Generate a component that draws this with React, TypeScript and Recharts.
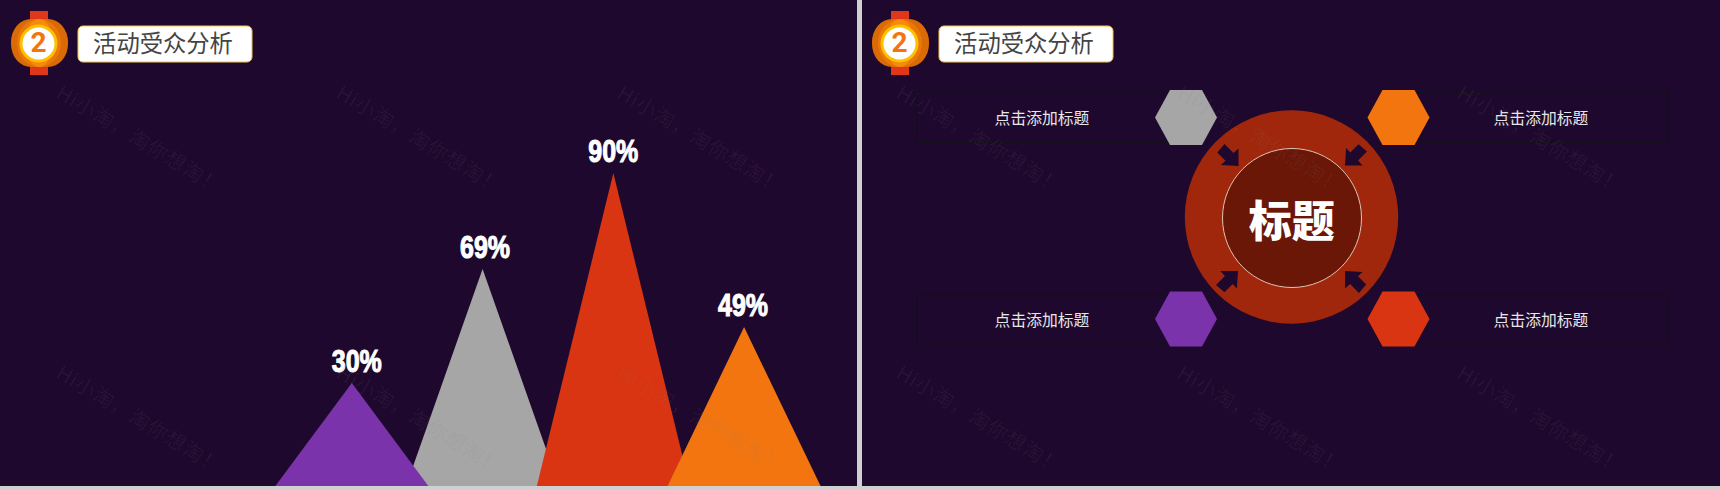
import { BarChart, Bar, XAxis, YAxis, LabelList } from 'recharts'

// peak heights are read off the picture, the printed labels do not follow them exactly
const categories = ['a', 'b', 'c', 'd']
const peakLabels = ['30%', '69%', '90%', '49%']
const peakHeights = [29.6, 62.4, 90, 45.7]
const peakColors = ['#7a33ab', '#a6a6a6', '#d93512', '#f27510']
const labelShift = [5, 2.5, 0, -1]
// gray sits under purple, so it is drawn first
const drawOrder = [1, 0, 2, 3]
// recharts caps a bar at 90% of its band, the triangles overlap so widen them here
const baseWiden = 1.3

const rows = categories.map((category, i) => ({
  category,
  [`h${i}`]: peakHeights[i],
  [`l${i}`]: peakLabels[i],
}))

const BG = '#1f082d'
const CJK = '"Noto Sans CJK SC", sans-serif'

const boxTitle = '点击添加标题'
const headerTitle = '活动受众分析'
const watermark = 'Hi小淘，淘你想淘！'

const watermarkX = [55, 335, 616, 895, 1176, 1456]
const watermarkY = [97, 377]

const hexagons = [
  { cx: 1186, cy: 117.5, fill: '#a6a6a6' },
  { cx: 1398.5, cy: 117.5, fill: '#f27510' },
  { cx: 1186, cy: 319, fill: '#7a33ab' },
  { cx: 1398.5, cy: 319, fill: '#d93512' },
]

const arrows = [
  { x: 1227.5, y: 155, angle: 0 },
  { x: 1356, y: 154.5, angle: 90 },
  { x: 1356, y: 282, angle: 180 },
  { x: 1227, y: 282, angle: 270 },
]

const boxes = [
  { d: 'M1170 92.5H917V142.5H1170', tx: 1042, ty: 118 },
  { d: 'M1170 295H917V344H1170', tx: 1042, ty: 320.5 },
  { d: 'M1417 92.5H1668V142.5H1417', tx: 1541, ty: 118 },
  { d: 'M1417 295H1668V344H1417', tx: 1541, ty: 320.5 },
]

function Triangle({ x, y, width, height, fill }: any) {
  if (!height) return null
  const mid = x + width / 2
  const half = (width * baseWiden) / 2
  return <polygon points={`${mid - half},${y + height} ${mid},${y} ${mid + half},${y + height}`} fill={fill} />
}

function PeakLabel({ x, y, width, value, index }: any) {
  if (value == null) return null
  return (
    <text
      x={x + width / 2 + labelShift[index]}
      y={y - 11}
      textAnchor="middle"
      textLength={50}
      lengthAdjust="spacingAndGlyphs"
      fontFamily="Liberation Sans, sans-serif"
      fontWeight="bold"
      fontSize={32}
      fill="#fff"
      stroke="#fff"
      strokeWidth={1.1}
    >
      {value}
    </text>
  )
}

function Header({ dx }: { dx: number }) {
  return (
    <g transform={`translate(${dx} 0)`}>
      <rect x={30} y={11} width={18} height={64} fill="#e0361a" />
      <rect x={11} y={19} width={57} height={48} rx={20} ry={23} fill="#d96a05" />
      <ellipse cx={39} cy={43} rx={22} ry={24} fill="#ea7809" />
      <ellipse cx={39} cy={43} rx={14} ry={24} fill="#f58a0c" />
      <circle cx={38.5} cy={43.5} r={19} fill="#ffc000" />
      <circle cx={38.5} cy={43.5} r={16} fill="#fff" />
      <text x={38.5} y={52} textAnchor="middle" fontFamily="Roboto, sans-serif" fontWeight="bold" fontSize={28} fill="#f27510">
        2
      </text>
      <rect x={78} y={26} width={174} height={36} rx={5} fill="#fff" stroke="#f0c348" strokeWidth={1} />
      <text x={163} y={52} textAnchor="middle" fontFamily={CJK} fontWeight={400} fontSize={23.3} fill="#444444">
        {headerTitle}
      </text>
    </g>
  )
}

function Diagram() {
  return (
    <svg width={1720} height={490} style={{ position: 'absolute', left: 0, top: 0 }}>
      <Header dx={0} />
      <Header dx={861} />
      {boxes.map(b => (
        <g key={b.d}>
          <path d={b.d} fill="none" stroke="#12101a" strokeWidth={1.2} />
          <text x={b.tx} y={b.ty + 5.5} textAnchor="middle" fontFamily={CJK} fontSize={15.8} fontWeight={400} fill="#e6e6e6">
            {boxTitle}
          </text>
        </g>
      ))}
      <circle cx={1291.5} cy={217} r={106.7} fill="#a0270c" />
      <circle cx={1292} cy={218} r={69.5} fill="#6a1708" stroke="#e0c4b4" strokeWidth={1} />
      <text x={1291.7} y={236.5} textAnchor="middle" fontFamily={CJK} fontWeight={900} fontSize={43} fill="#fff">
        标题
      </text>
      {hexagons.map(h => (
        <polygon
          key={h.fill}
          transform={`translate(${h.cx} ${h.cy})`}
          points="-31,0 -16,-27.5 16,-27.5 31,0 16,27.5 -16,27.5"
          fill={h.fill}
        />
      ))}
      {arrows.map(a => (
        <polygon
          key={a.angle}
          transform={`translate(${a.x} ${a.y}) rotate(${a.angle}) scale(1.1)`}
          points="10,10 -6,9 -1.8,5.2 -9.3,-2.3 -2.7,-10 5.4,-1.9 10,-6"
          fill={BG}
        />
      ))}
    </svg>
  )
}

function Watermarks() {
  return (
    <svg width={1720} height={490} style={{ position: 'absolute', left: 0, top: 0, pointerEvents: 'none' }}>
      {watermarkY.map(y =>
        watermarkX.map(x => (
          <text
            key={`${x}-${y}`}
            transform={`translate(${x} ${y}) rotate(31)`}
            fontFamily={CJK}
            fontWeight={300}
            fontSize={20}
            letterSpacing={1}
            fill="#808080"
            fillOpacity={0.14}
          >
            {watermark}
          </text>
        )),
      )}
    </svg>
  )
}

export default function App() {
  return (
    <div style={{ position: 'absolute', left: 0, top: 0, width: 1720, height: 490, background: '#d0d0d0', overflow: 'hidden' }}>
      <div style={{ position: 'absolute', left: 0, top: 0, width: 857, height: 486, background: BG }} />
      <div style={{ position: 'absolute', left: 862, top: 0, width: 858, height: 486, background: BG }} />
      <Diagram />
      <div style={{ position: 'absolute', left: 0, top: 0 }}>
        <BarChart
          width={1720}
          height={490}
          data={rows}
          barSize={170}
          margin={{ top: 138.2, right: 911, bottom: 4, left: 286 }}
        >
          <XAxis dataKey="category" hide />
          <YAxis domain={[0, 100]} hide />
          {drawOrder.map(i => (
            <Bar key={i} dataKey={`h${i}`} stackId="peaks" fill={peakColors[i]} shape={<Triangle />} isAnimationActive={false}>
              <LabelList dataKey={`l${i}`} content={<PeakLabel />} />
            </Bar>
          ))}
        </BarChart>
      </div>
      <Watermarks />
    </div>
  )
}
